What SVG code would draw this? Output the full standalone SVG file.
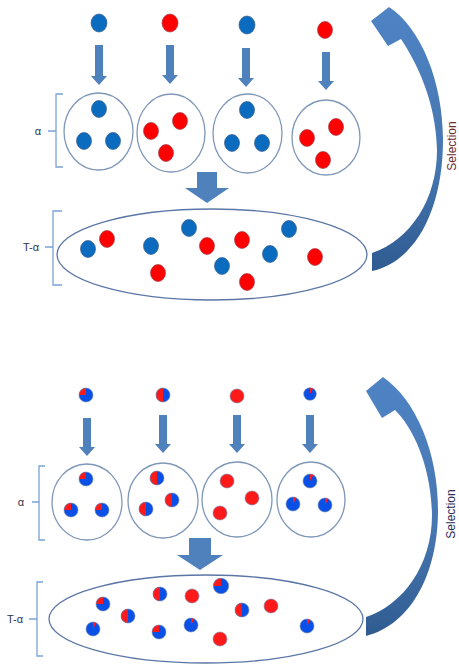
<svg xmlns="http://www.w3.org/2000/svg" width="459" height="665" viewBox="0 0 459 665">
<style>
.bg{fill:#ffffff}
.cont{fill:#ffffff;stroke:#7f97b8;stroke-width:1.3}
.big{fill:#ffffff;stroke:#5b76a6;stroke-width:1.3}
.b{fill:#0b6cbf;stroke:#3a5f8c;stroke-width:0.7}
.r{fill:#ff0000;stroke:#a04050;stroke-width:0.7}
.pb{fill:#0a4fe6}
.pr{fill:#ff1a1a}
.po{fill:none;stroke:#6f86a8;stroke-width:0.6}
.arr{fill:#4f81bd}
.brk{fill:none;stroke:#7aa2d6;stroke-width:1.3}
.lbl{font-family:"Liberation Sans",Arial,sans-serif;font-size:11px;fill:#2b3550}
.sel{font-family:"Liberation Sans",Arial,sans-serif;font-size:12px;text-anchor:middle}
</style>
<defs>
<linearGradient id="cg" x1="0" y1="0" x2="0" y2="1">
<stop offset="0" stop-color="#4f83c4"/>
<stop offset="0.6" stop-color="#4676b0"/>
<stop offset="1" stop-color="#2f5b90"/>
</linearGradient>
<g id="pA"><circle r="7" class="pb"/><path d="M0,0 L-7,0 A7,7 0 0 1 0,-7 Z" class="pr"/><circle r="7" class="po"/></g>
<g id="pB"><circle r="7" class="pb"/><path d="M0,-7 A7,7 0 0 0 0,7 Z" class="pr"/><circle r="7" class="po"/></g>
<g id="pD"><circle r="7" class="pb"/><path d="M0,0 L0,-7 A7,7 0 0 1 3.5,-6.06 Z" class="pr"/><circle r="7" class="po"/></g>
<g id="pR"><circle r="7" class="pr"/><circle r="7" class="po"/></g>
</defs>
<rect class="bg" x="0" y="0" width="459" height="665"/>

<g id="connectors">
<path class="arr" d="M95,45 h8 V76 h4 L99,85 L91,76 h4 Z"/>
<path class="arr" d="M166,45 h8 V75 h4 L170,84 L162,75 h4 Z"/>
<path class="arr" d="M242,48 h8 V78 h4 L246,87 L238,78 h4 Z"/>
<path class="arr" d="M322,52 h8 V81 h4 L326,90 L318,81 h4 Z"/>
<path class="arr" d="M197,172 H217 V188 H229 L207,203 L185,188 H197 Z"/>
<path fill="url(#cg)" d="M371,21 L389,7 C421,28 443,82 443,140 C443,210 415,262 372,271 L372,253 C410,240 437,200 437,150 C436,100 416,62 401,39 L388,46 Z"/>

<path class="arr" d="M83,418 h8 V447 h4 L87,456 L79,447 h4 Z"/>
<path class="arr" d="M159,415 h8 V444 h4 L163,453 L155,444 h4 Z"/>
<path class="arr" d="M233,415 h8 V444 h4 L237,453 L229,444 h4 Z"/>
<path class="arr" d="M306,415 h8 V444 h4 L310,453 L302,444 h4 Z"/>
<path class="arr" d="M189,538 H211 V555 H223 L200,570 L177,555 H189 Z"/>
<path fill="url(#cg)" d="M366,391 L383,377 C416,400 438,452 438,510 C438,575 410,625 366,636 L366,617 C403,605 432,565 432,515 C431,465 413,428 395,410 L382,418 Z"/>
</g>

<g id="labels-top">
<path class="brk" d="M63,94 H56 V167 H63 M48,131 H56"/>
<text class="lbl" x="38" y="135" text-anchor="middle">α</text>
<path class="brk" d="M62,211 H53 V285 H62 M45,247 H53"/>
<text class="lbl" x="31" y="251" text-anchor="middle">T-α</text>
<text class="sel" fill="#6b2c2c" transform="translate(456,146) rotate(-90)">Selection</text>
</g>

<g id="feed-top-1"><ellipse class="b" cx="99" cy="23" rx="8" ry="9"/></g>
<g id="feed-top-2"><ellipse class="r" cx="170" cy="23" rx="8" ry="9"/></g>
<g id="feed-top-3"><ellipse class="b" cx="247" cy="25" rx="8" ry="9"/></g>
<g id="feed-top-4"><ellipse class="r" cx="325" cy="30" rx="7.5" ry="8.5"/></g>

<g id="pool-top-1">
<ellipse class="cont" cx="98.5" cy="131.5" rx="34.5" ry="38.5"/>
<ellipse class="b" cx="99" cy="109" rx="7.5" ry="8.5"/>
<ellipse class="b" cx="84" cy="141" rx="7.5" ry="8.5"/>
<ellipse class="b" cx="113" cy="141" rx="7.5" ry="8.5"/>
</g>
<g id="pool-top-2">
<ellipse class="cont" cx="171" cy="133" rx="34" ry="39"/>
<ellipse class="r" cx="151" cy="131" rx="7.5" ry="8.5"/>
<ellipse class="r" cx="180" cy="121" rx="7.5" ry="8.5"/>
<ellipse class="r" cx="166" cy="153" rx="7.5" ry="8.5"/>
</g>
<g id="pool-top-3">
<ellipse class="cont" cx="247.5" cy="133.5" rx="34.5" ry="39.5"/>
<ellipse class="b" cx="247" cy="110" rx="7.5" ry="8.5"/>
<ellipse class="b" cx="232" cy="143" rx="7.5" ry="8.5"/>
<ellipse class="b" cx="262" cy="143" rx="7.5" ry="8.5"/>
</g>
<g id="pool-top-4">
<ellipse class="cont" cx="326" cy="137.5" rx="34" ry="37.5"/>
<ellipse class="r" cx="307" cy="138" rx="7.5" ry="8.5"/>
<ellipse class="r" cx="336" cy="127" rx="7.5" ry="8.5"/>
<ellipse class="r" cx="323" cy="160" rx="7.5" ry="8.5"/>
</g>

<g id="total-top">
<ellipse class="big" cx="212" cy="254.5" rx="155" ry="45.5"/>
<ellipse class="b" cx="88" cy="249" rx="7.5" ry="8.5"/>
<ellipse class="r" cx="107" cy="239" rx="7.5" ry="8.5"/>
<ellipse class="b" cx="151" cy="246" rx="7.5" ry="8.5"/>
<ellipse class="b" cx="189" cy="228" rx="7.5" ry="8.5"/>
<ellipse class="r" cx="207" cy="246" rx="7.5" ry="8.5"/>
<ellipse class="r" cx="242" cy="240" rx="7.5" ry="8.5"/>
<ellipse class="b" cx="222" cy="266" rx="7.5" ry="8.5"/>
<ellipse class="r" cx="158" cy="273" rx="7.5" ry="8.5"/>
<ellipse class="r" cx="247" cy="282" rx="7.5" ry="8.5"/>
<ellipse class="b" cx="270" cy="254" rx="7.5" ry="8.5"/>
<ellipse class="b" cx="289" cy="229" rx="7.5" ry="8.5"/>
<ellipse class="r" cx="315" cy="257" rx="7.5" ry="8.5"/>
</g>

<g id="labels-bottom">
<path class="brk" d="M45,466 H39 V540 H45 M32,502 H39"/>
<text class="lbl" x="21" y="506" text-anchor="middle">α</text>
<path class="brk" d="M43,582 H37 V656 H43 M29,619 H37"/>
<text class="lbl" x="15" y="623" text-anchor="middle">T-α</text>
<text class="sel" fill="#2a2d5c" transform="translate(455,514) rotate(-90)">Selection</text>
</g>

<g id="feed-bot-1"><use href="#pA" x="86" y="395"/></g>
<g id="feed-bot-2"><use href="#pB" x="163" y="395"/></g>
<g id="feed-bot-3"><use href="#pR" x="237" y="396"/></g>
<g id="feed-bot-4"><use href="#pD" transform="translate(310,394) scale(0.9)"/></g>

<g id="pool-bot-1">
<ellipse class="cont" cx="87" cy="502" rx="35" ry="38"/>
<use href="#pA" x="86" y="479"/>
<use href="#pA" x="71" y="510"/>
<use href="#pA" x="102" y="510"/>
</g>
<g id="pool-bot-2">
<ellipse class="cont" cx="163" cy="500.5" rx="35" ry="37.5"/>
<use href="#pB" x="157" y="478"/>
<use href="#pB" x="172" y="500"/>
<use href="#pB" x="146" y="509"/>
</g>
<g id="pool-bot-3">
<ellipse class="cont" cx="237" cy="499.5" rx="35" ry="37.5"/>
<use href="#pR" x="227" y="481"/>
<use href="#pR" x="252" y="498"/>
<use href="#pR" x="220" y="513"/>
</g>
<g id="pool-bot-4">
<ellipse class="cont" cx="311" cy="499.5" rx="34" ry="37.5"/>
<use href="#pD" x="310" y="481"/>
<use href="#pD" x="293" y="504"/>
<use href="#pD" x="325" y="505"/>
</g>

<g id="total-bot">
<ellipse class="big" cx="206" cy="619" rx="157" ry="44"/>
<use href="#pA" x="103" y="604"/>
<use href="#pD" x="93" y="629"/>
<use href="#pB" x="128" y="616"/>
<use href="#pB" x="160" y="594"/>
<use href="#pA" x="159" y="632"/>
<use href="#pR" x="192" y="596"/>
<use href="#pA" transform="translate(221,586) scale(1.1)"/>
<use href="#pD" x="191" y="625"/>
<use href="#pB" x="242" y="610"/>
<use href="#pR" x="271" y="606"/>
<use href="#pR" x="220" y="639"/>
<use href="#pD" x="307" y="626"/>
</g>
</svg>
